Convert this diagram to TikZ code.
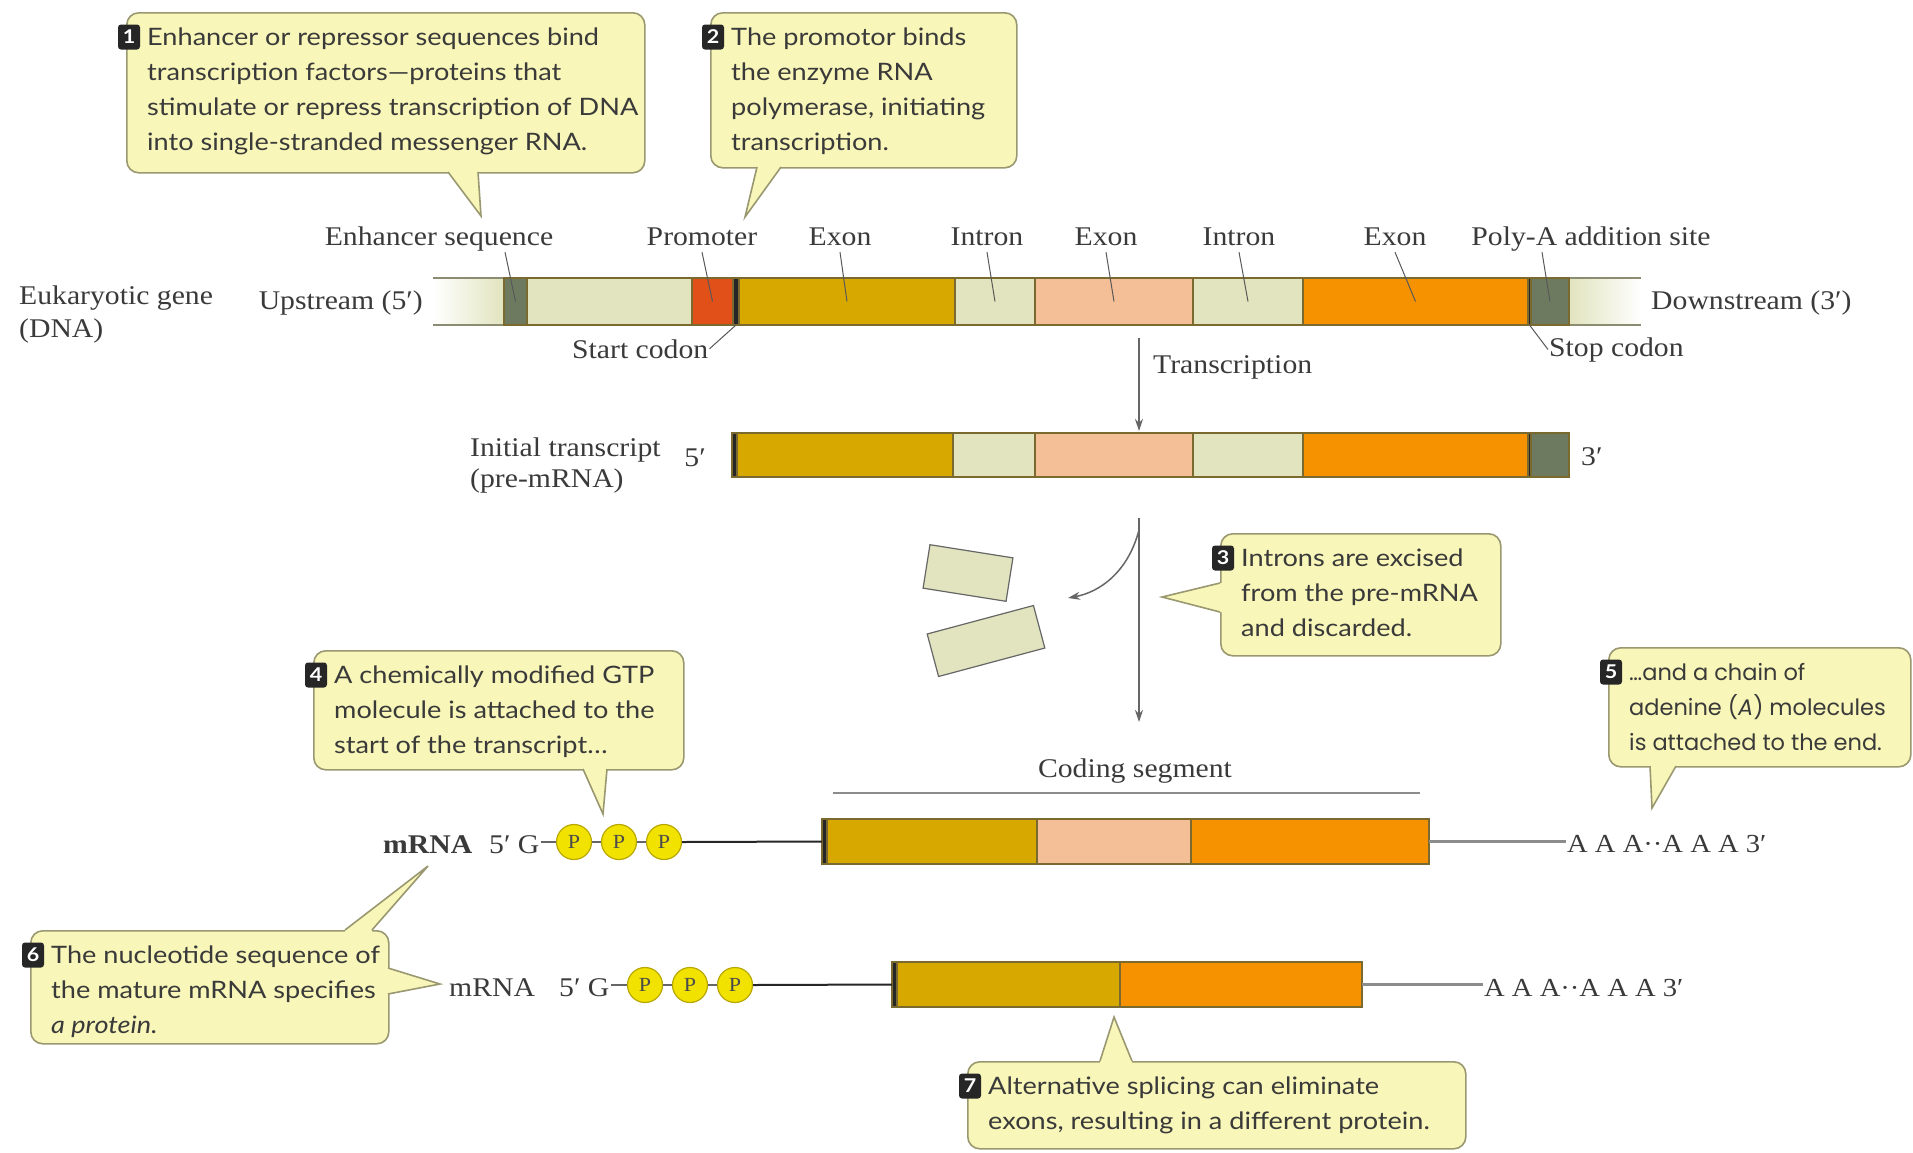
\documentclass[tikz,border=0pt]{standalone}
\usepackage{fontspec}
\setmainfont{Liberation Serif}
\newfontfamily\lblfont[FakeStretch=1.1]{Liberation Serif}
\newfontfamily\callfont[FakeStretch=1.13]{Lato}
\newfontfamily\roundfont{Poppins}
\usetikzlibrary{arrows.meta,shapes.geometric}
\definecolor{exA}{HTML}{D6A800}
\definecolor{exB}{HTML}{F4BE96}
\definecolor{exC}{HTML}{F69200}
\definecolor{intr}{HTML}{E1E4BE}
\definecolor{grn}{HTML}{6E7A60}
\definecolor{promc}{HTML}{E15019}
\definecolor{barln}{HTML}{7A6A30}
\definecolor{dnaln}{HTML}{8C8C72}
\definecolor{callfill}{HTML}{F8F6B8}
\definecolor{callln}{HTML}{9A9870}
\definecolor{txt}{HTML}{3A3A3A}
\definecolor{pfill}{HTML}{F2E200}
\definecolor{pline}{HTML}{B8A800}
\begin{document}
\begin{tikzpicture}[x=1pt,y=-1pt,
  seg/.style={draw=barln, line width=1.2pt, inner sep=0pt, outer sep=0pt, anchor=north west},
  lbl/.style={font=\lblfont\fontsize{27}{31}\selectfont, text=txt, inner sep=1pt},
  toplbl/.style={lbl, anchor=base, text depth=6pt},
  leader/.style={draw=txt!85, line width=1pt},
  dnaline/.style={draw=dnaln, line width=1.6pt},
  callbox/.style={draw=callln, fill=callfill, line width=1.6pt, rounded corners=12pt, inner sep=0pt, anchor=north west},
  tailfill/.style={fill=callfill},
  tailline/.style={draw=callln, line width=1.6pt},
  calltext/.style={font=\callfont\fontsize{24}{35}\selectfont, text=txt, align=left, anchor=north west, inner sep=0pt},
  roundtext/.style={font=\roundfont\fontsize{22.5}{35}\selectfont, text=txt, align=left, anchor=north west, inner sep=0pt},
  badge/.style={fill=black!85, rounded corners=3pt, text=white, font=\callfont\bfseries\fontsize{19}{19}\selectfont, minimum width=22pt, minimum height=25pt, inner sep=0pt},
  arr/.style={draw=black!60, line width=1.5pt, -{Stealth[length=12pt,width=8pt]}},
  pcirc/.style={circle, fill=pfill, draw=pline, line width=1.2pt, minimum size=35pt, inner sep=0pt, font=\lblfont\fontsize{20}{20}\selectfont, text=black!70},
  frag/.style={fill=intr, draw=black!60, line width=1.2pt, inner sep=0pt},
  rowline/.style={draw=black!85, line width=2pt},
  tailline2/.style={draw=black!45, line width=3pt},
  thin/.style={draw=black!60, line width=1.2pt}
]
\useasboundingbox (0,0) rectangle (1913,1152);
\fill[white] (0,0) rectangle (1913,1152);

%% ---------- DNA bar ----------
\node[seg, draw=none, minimum width=71pt, minimum height=47pt, left color=white, right color=intr] (dFadeL) at (433,278) {};
\node[seg, draw=none, minimum width=72pt, minimum height=47pt, left color=intr, right color=white] (dFadeR) at (1569,278) {};
\draw[dnaline] (dFadeL.north west) -- (dFadeR.north east);
\draw[dnaline] (dFadeL.south west) -- (dFadeR.south east);
\node[seg, fill=grn,   minimum width=23pt,  minimum height=47pt] (dEnh)   at (504,278) {};
\node[seg, fill=intr,  minimum width=165pt, minimum height=47pt] (dI0)    at (527,278) {};
\node[seg, fill=promc, minimum width=41pt,  minimum height=47pt] (dProm)  at (692,278) {};
\node[seg, fill=black!85, minimum width=6pt, minimum height=47pt] (dStart) at (733,278) {};
\node[seg, fill=exA,   minimum width=216pt, minimum height=47pt] (dEx1)   at (739,278) {};
\node[seg, fill=intr,  minimum width=80pt,  minimum height=47pt] (dIn1)   at (955,278) {};
\node[seg, fill=exB,   minimum width=158pt, minimum height=47pt] (dEx2)   at (1035,278) {};
\node[seg, fill=intr,  minimum width=110pt, minimum height=47pt] (dIn2)   at (1193,278) {};
\node[seg, fill=exC,   minimum width=225pt, minimum height=47pt] (dEx3)   at (1303,278) {};
\node[seg, fill=black!85, minimum width=3pt, minimum height=47pt] (dStop) at (1528,278) {};
\node[seg, fill=grn,   minimum width=38pt,  minimum height=47pt] (dPoly)  at (1531,278) {};

%% labels of the DNA bar
\node[toplbl] (lEnh)  at (439,245) {Enhancer sequence};
\node[toplbl] (lProm) at (702,245) {Promoter};
\node[toplbl] (lEx1)  at (840,245) {Exon};
\node[toplbl] (lIn1)  at (987,245) {Intron};
\node[toplbl] (lEx2)  at (1106,245) {Exon};
\node[toplbl] (lIn2)  at (1239,245) {Intron};
\node[toplbl] (lEx3)  at (1395,245) {Exon};
\node[toplbl] (lPoly) at (1591,245) {Poly-A addition site};

\draw[leader] ([xshift=66pt]lEnh.south) -- (dEnh.center);
\draw[leader] (lProm.south) -- (dProm.center);
\draw[leader] (lEx1.south) -- (dEx1.center);
\draw[leader] (lIn1.south) -- (dIn1.center);
\draw[leader] (lEx2.south) -- (dEx2.center);
\draw[leader] (lIn2.south) -- (dIn2.center);
\draw[leader] (lEx3.south) -- (dEx3.center);
\draw[leader] ([xshift=-49pt]lPoly.south) -- (dPoly.center);

\node[lbl, anchor=north west, align=left, font=\lblfont\fontsize{27}{33}\selectfont] (lEuk) at (18,285) {Eukaryotic gene\\(DNA)};
\node[lbl, anchor=base east] (lUp)   at (424,309) {Upstream (5′)};
\node[lbl, anchor=base west] (lDown) at (1650,309) {Downstream (3′)};
\node[lbl, anchor=base west] (lStart) at (571,358) {Start codon};
\node[lbl, anchor=base west] (lStop)  at (1548,356) {Stop codon};
\draw[leader] (lStart.east) -- (dStart.south);
\draw[leader] (lStop.west) -- (dStop.south);

%% transcription arrow
\node[lbl, anchor=base west] (lTrans) at (1152,373) {Transcription};
\coordinate (ar1s) at (1139,338);
\coordinate (ar1e) at (1139,431);
\draw[arr] (ar1s) -- (ar1e);

%% ---------- initial transcript ----------
\node[seg, fill=black!85, minimum width=5pt, minimum height=44pt] (tStart) at (732,433) {};
\node[seg, fill=exA,  minimum width=216pt, minimum height=44pt] (tEx1) at (737,433) {};
\node[seg, fill=intr, minimum width=82pt,  minimum height=44pt] (tIn1) at (953,433) {};
\node[seg, fill=exB,  minimum width=158pt, minimum height=44pt] (tEx2) at (1035,433) {};
\node[seg, fill=intr, minimum width=110pt, minimum height=44pt] (tIn2) at (1193,433) {};
\node[seg, fill=exC,  minimum width=225pt, minimum height=44pt] (tEx3) at (1303,433) {};
\node[seg, fill=black!85, minimum width=3pt, minimum height=44pt] (tStop) at (1528,433) {};
\node[seg, fill=grn,  minimum width=38pt,  minimum height=44pt] (tPoly) at (1531,433) {};
\node[lbl, anchor=north west, align=left, font=\lblfont\fontsize{27}{31}\selectfont] (lInit) at (469,437) {Initial transcript\\(pre-mRNA)};
\node[lbl, anchor=base east] (l5) at (707,466) {5′};
\node[lbl, anchor=base west] (l3) at (1580,465) {3′};

%% ---------- splicing ----------
\coordinate (ar2s) at (1139,518);
\coordinate (ar2e) at (1139,722);
\draw[arr] (ar2s) -- (ar2e);
\coordinate (cvs) at (1139,530);
\coordinate (cve) at (1068,598);
\draw[arr] (cvs) .. controls (1128,572) and (1100,592) .. (cve);
\node[frag, minimum width=84pt, minimum height=44pt, rotate=-9] (fr1) at (968,573) {};
\node[frag, minimum width=110pt, minimum height=44pt, rotate=15] (fr2) at (986,641) {};

%% ---------- mature mRNA, row 1 ----------
\node[lbl, anchor=base] (lCod) at (1135,777) {Coding segment};
\coordinate (cb1) at (833,793);
\coordinate (cb2) at (1420,793);
\draw[draw=black!45, line width=2pt] (cb1) -- (cb2);

\node[seg, fill=black!85, minimum width=5pt, minimum height=45pt] (mStart) at (822,819) {};
\node[seg, fill=exA, minimum width=210pt, minimum height=45pt] (mEx1) at (827,819) {};
\node[seg, fill=exB, minimum width=154pt, minimum height=45pt] (mEx2) at (1037,819) {};
\node[seg, fill=exC, minimum width=238pt, minimum height=45pt] (mEx3) at (1191,819) {};

\node[lbl, anchor=base west, font=\lblfont\bfseries\fontsize{27}{31}\selectfont] (mr1) at (382,853) {mRNA};
\node[lbl, anchor=base west] (g1) at (488,853) {5′ G};
\node[pcirc] (p11) at (574,842) {P};
\node[pcirc] (p12) at (619,842) {P};
\node[pcirc] (p13) at (664,842) {P};
\draw[thin] (g1.east |- p11.west) -- (p11.west);
\draw[thin] (p11.east) -- (p12.west);
\draw[thin] (p12.east) -- (p13.west);
\draw[rowline] (p13.east) -- (mStart.west);
\node[lbl, anchor=base west, font=\lblfont\fontsize{26}{31}\selectfont] (aaa1) at (1566,852) {A A A··A A A 3′};
\draw[tailline2] (mEx3.east) -- (aaa1.west |- mEx3.east);

%% ---------- mature mRNA, row 2 ----------
\node[seg, fill=black!85, minimum width=5pt, minimum height=45pt] (nStart) at (892,962) {};
\node[seg, fill=exA, minimum width=223pt, minimum height=45pt] (nEx1) at (897,962) {};
\node[seg, fill=exC, minimum width=242pt, minimum height=45pt] (nEx3) at (1120,962) {};

\node[lbl, anchor=base west] (mr2) at (448,996) {mRNA};
\node[lbl, anchor=base west] (g2) at (558,996) {5′ G};
\node[pcirc] (p21) at (645,985) {P};
\node[pcirc] (p22) at (690,985) {P};
\node[pcirc] (p23) at (735,985) {P};
\draw[thin] (g2.east |- p21.west) -- (p21.west);
\draw[thin] (p21.east) -- (p22.west);
\draw[thin] (p22.east) -- (p23.west);
\draw[rowline] (p23.east) -- (nStart.west);
\node[lbl, anchor=base west, font=\lblfont\fontsize{26}{31}\selectfont] (aaa2) at (1483,996) {A A A··A A A 3′};
\draw[tailline2] (nEx3.east) -- (aaa2.west |- nEx3.east);

%% ---------- callouts ----------
% 1
\node[callbox, minimum width=518pt, minimum height=160pt] (c1) at (126,12) {};
\coordinate (t1) at (481,216);
\fill[tailfill] (448,172) -- (t1) -- (478,172) -- (478,167) -- (448,167) -- cycle;
\draw[tailline] (448,172) -- (t1) -- (478,172);
\node[calltext] (x1) at (147,28) {Enhancer or repressor sequences bind\\transcription factors—proteins that\\stimulate or repress transcription of DNA\\into single-stranded messenger RNA.};
\node[badge] (b1) at (129,37) {1};
% 2
\node[callbox, minimum width=306pt, minimum height=155pt] (c2) at (710,12) {};
\coordinate (t2) at (745,217);
\fill[tailfill] (757,167) -- (t2) -- (781,167) -- (781,162) -- (757,162) -- cycle;
\draw[tailline] (757,167) -- (t2) -- (781,167);
\node[calltext] (x2) at (731,28) {The promotor binds\\the enzyme RNA\\polymerase, initiating\\transcription.};
\node[badge] (b2) at (713,37) {2};
% 3
\node[callbox, minimum width=280pt, minimum height=122pt] (c3) at (1220,533) {};
\coordinate (t3) at (1162,597);
\fill[tailfill] (1220,583) -- (t3) -- (1220,612) -- (1225,612) -- (1225,583) -- cycle;
\draw[tailline] (1220,583) -- (t3) -- (1220,612);
\node[calltext] (x3) at (1241,549) {Introns are excised\\from the pre-mRNA\\and discarded.};
\node[badge] (b3) at (1223,558) {3};
% 4
\node[callbox, minimum width=370pt, minimum height=119pt] (c4) at (313,650) {};
\coordinate (t4) at (603,814);
\fill[tailfill] (583,769) -- (t4) -- (607,769) -- (607,764) -- (583,764) -- cycle;
\draw[tailline] (583,769) -- (t4) -- (607,769);
\node[calltext] (x4) at (334,666) {A chemically modified GTP\\molecule is attached to the\\start of the transcript…};
\node[badge] (b4) at (316,675) {4};
% 5
\node[callbox, minimum width=302pt, minimum height=119pt] (c5) at (1608,647) {};
\coordinate (t5) at (1652,808);
\fill[tailfill] (1650,766) -- (t5) -- (1676,766) -- (1676,761) -- (1650,761) -- cycle;
\draw[tailline] (1650,766) -- (t5) -- (1676,766);
\node[roundtext] (x5) at (1629,663) {…and a chain of\\adenine (\textit{A}) molecules\\is attached to the end.};
\node[badge] (b5) at (1611,672) {5};
% 6
\node[callbox, minimum width=358pt, minimum height=113pt] (c6) at (30,930) {};
\coordinate (t6a) at (428,866);
\coordinate (t6b) at (440,984);
\fill[tailfill] (345,930) -- (t6a) -- (372,930) -- (372,935) -- (345,935) -- cycle;
\draw[tailline] (345,930) -- (t6a) -- (372,930);
\fill[tailfill] (388,968) -- (t6b) -- (388,994) -- (383,994) -- (383,968) -- cycle;
\draw[tailline] (388,968) -- (t6b) -- (388,994);
\node[calltext] (x6) at (51,946) {The nucleotide sequence of\\the mature mRNA specifies\\\textit{a protein.}};
\node[badge] (b6) at (33,955) {6};
% 7
\node[callbox, minimum width=498pt, minimum height=87pt] (c7) at (967,1061) {};
\coordinate (t7) at (1114,1017);
\fill[tailfill] (1100,1061) -- (t7) -- (1132,1061) -- (1132,1066) -- (1100,1066) -- cycle;
\draw[tailline] (1100,1061) -- (t7) -- (1132,1061);
\node[calltext] (x7) at (988,1077) {Alternative splicing can eliminate\\exons, resulting in a different protein.};
\node[badge] (b7) at (970,1086) {7};
\end{tikzpicture}
\end{document}
